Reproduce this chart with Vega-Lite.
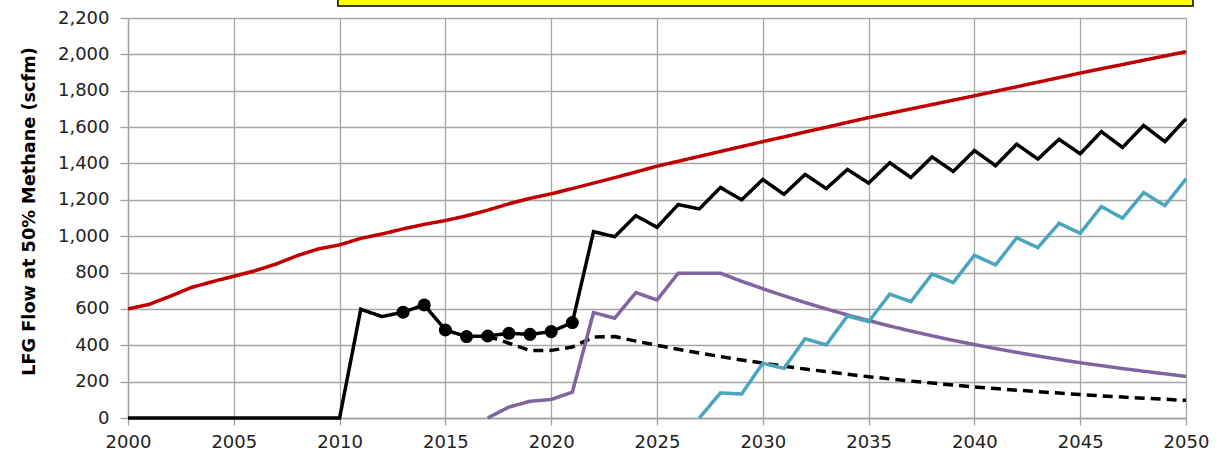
{
  "$schema": "https://vega.github.io/schema/vega-lite/v6.json",
  "width": 1058,
  "height": 400,
  "autosize": {"type": "none"},
  "padding": {"left": 128, "top": 18, "right": 44, "bottom": 44},
  "background": "white",
  "config": {
    "view": {"stroke": null},
    "axis": {
      "domainColor": "#A0A0A0",
      "domainWidth": 1.3,
      "tickColor": "#A0A0A0",
      "tickWidth": 1.3,
      "gridColor": "#A6A6A6",
      "gridWidth": 1.3,
      "labelFont": "DejaVu Sans",
      "labelFontSize": 18,
      "labelColor": "#222222",
      "titleFont": "DejaVu Sans",
      "titleColor": "#000000"
    }
  },
  "datasets": {
    "flows": [
      {"year": 2000, "gen": 600, "coll": 0, "exist": null, "p1": null, "p2": null, "actual": false},
      {"year": 2001, "gen": 625, "coll": 0, "exist": null, "p1": null, "p2": null, "actual": false},
      {"year": 2002, "gen": 670, "coll": 0, "exist": null, "p1": null, "p2": null, "actual": false},
      {"year": 2003, "gen": 718, "coll": 0, "exist": null, "p1": null, "p2": null, "actual": false},
      {"year": 2004, "gen": 750, "coll": 0, "exist": null, "p1": null, "p2": null, "actual": false},
      {"year": 2005, "gen": 780, "coll": 0, "exist": null, "p1": null, "p2": null, "actual": false},
      {"year": 2006, "gen": 810, "coll": 0, "exist": null, "p1": null, "p2": null, "actual": false},
      {"year": 2007, "gen": 847, "coll": 0, "exist": null, "p1": null, "p2": null, "actual": false},
      {"year": 2008, "gen": 893, "coll": 0, "exist": null, "p1": null, "p2": null, "actual": false},
      {"year": 2009, "gen": 930, "coll": 0, "exist": null, "p1": null, "p2": null, "actual": false},
      {"year": 2010, "gen": 952, "coll": 0, "exist": null, "p1": null, "p2": null, "actual": false},
      {"year": 2011, "gen": 988, "coll": 598, "exist": null, "p1": null, "p2": null, "actual": false},
      {"year": 2012, "gen": 1012, "coll": 558, "exist": null, "p1": null, "p2": null, "actual": false},
      {"year": 2013, "gen": 1040, "coll": 582, "exist": null, "p1": null, "p2": null, "actual": true},
      {"year": 2014, "gen": 1065, "coll": 622, "exist": null, "p1": null, "p2": null, "actual": true},
      {"year": 2015, "gen": 1086, "coll": 484, "exist": null, "p1": null, "p2": null, "actual": true},
      {"year": 2016, "gen": 1112, "coll": 448, "exist": null, "p1": null, "p2": null, "actual": true},
      {"year": 2017, "gen": 1143, "coll": 451, "exist": 451, "p1": 0, "p2": null, "actual": true},
      {"year": 2018, "gen": 1178, "coll": 466, "exist": 411, "p1": 60, "p2": null, "actual": true},
      {"year": 2019, "gen": 1208, "coll": 460, "exist": 371, "p1": 92, "p2": null, "actual": true},
      {"year": 2020, "gen": 1233, "coll": 475, "exist": 372, "p1": 102, "p2": null, "actual": true},
      {"year": 2021, "gen": 1262, "coll": 525, "exist": 390, "p1": 142, "p2": null, "actual": true},
      {"year": 2022, "gen": 1292, "coll": 1025, "exist": 445, "p1": 580, "p2": null, "actual": false},
      {"year": 2023, "gen": 1322, "coll": 997, "exist": 448, "p1": 549, "p2": null, "actual": false},
      {"year": 2024, "gen": 1353, "coll": 1113, "exist": 423, "p1": 690, "p2": null, "actual": false},
      {"year": 2025, "gen": 1385, "coll": 1049, "exist": 400, "p1": 649, "p2": null, "actual": false},
      {"year": 2026, "gen": 1412, "coll": 1174, "exist": 378, "p1": 796, "p2": null, "actual": false},
      {"year": 2027, "gen": 1439, "coll": 1150, "exist": 357, "p1": 796, "p2": 0, "actual": false},
      {"year": 2028, "gen": 1466, "coll": 1268, "exist": 338, "p1": 796, "p2": 138, "actual": false},
      {"year": 2029, "gen": 1493, "coll": 1200, "exist": 319, "p1": 752, "p2": 132, "actual": false},
      {"year": 2030, "gen": 1520, "coll": 1312, "exist": 302, "p1": 711, "p2": 301, "actual": false},
      {"year": 2031, "gen": 1546, "coll": 1230, "exist": 285, "p1": 672, "p2": 273, "actual": false},
      {"year": 2032, "gen": 1573, "coll": 1340, "exist": 269, "p1": 635, "p2": 436, "actual": false},
      {"year": 2033, "gen": 1599, "coll": 1262, "exist": 255, "p1": 600, "p2": 402, "actual": false},
      {"year": 2034, "gen": 1626, "coll": 1367, "exist": 241, "p1": 567, "p2": 561, "actual": false},
      {"year": 2035, "gen": 1652, "coll": 1292, "exist": 227, "p1": 536, "p2": 530, "actual": false},
      {"year": 2036, "gen": 1676, "coll": 1404, "exist": 215, "p1": 506, "p2": 681, "actual": false},
      {"year": 2037, "gen": 1700, "coll": 1323, "exist": 203, "p1": 478, "p2": 640, "actual": false},
      {"year": 2038, "gen": 1724, "coll": 1436, "exist": 192, "p1": 452, "p2": 792, "actual": false},
      {"year": 2039, "gen": 1748, "coll": 1356, "exist": 181, "p1": 427, "p2": 745, "actual": false},
      {"year": 2040, "gen": 1772, "coll": 1471, "exist": 171, "p1": 404, "p2": 895, "actual": false},
      {"year": 2041, "gen": 1797, "coll": 1388, "exist": 162, "p1": 382, "p2": 842, "actual": false},
      {"year": 2042, "gen": 1822, "coll": 1506, "exist": 153, "p1": 361, "p2": 991, "actual": false},
      {"year": 2043, "gen": 1847, "coll": 1424, "exist": 145, "p1": 341, "p2": 937, "actual": false},
      {"year": 2044, "gen": 1872, "coll": 1533, "exist": 137, "p1": 322, "p2": 1071, "actual": false},
      {"year": 2045, "gen": 1897, "coll": 1453, "exist": 129, "p1": 304, "p2": 1016, "actual": false},
      {"year": 2046, "gen": 1921, "coll": 1575, "exist": 122, "p1": 288, "p2": 1163, "actual": false},
      {"year": 2047, "gen": 1944, "coll": 1488, "exist": 115, "p1": 272, "p2": 1099, "actual": false},
      {"year": 2048, "gen": 1968, "coll": 1609, "exist": 109, "p1": 257, "p2": 1240, "actual": false},
      {"year": 2049, "gen": 1991, "coll": 1520, "exist": 103, "p1": 243, "p2": 1168, "actual": false},
      {"year": 2050, "gen": 2015, "coll": 1646, "exist": 97, "p1": 229, "p2": 1315, "actual": false}
    ]
  },
  "layer": [
    {
      "data": {"name": "flows"},
      "transform": [
        {"fold": ["gen", "exist", "p1", "p2", "coll"], "as": ["series", "value"]},
        {"filter": "datum.value != null"}
      ],
      "mark": {"type": "line", "strokeWidth": 3.5, "clip": false},
      "encoding": {
        "x": {
          "field": "year", "type": "quantitative",
          "scale": {"domain": [2000, 2050], "nice": false, "zero": false},
          "axis": {
            "values": [2000, 2005, 2010, 2015, 2020, 2025, 2030, 2035, 2040, 2045, 2050],
            "tickCount": 20,
            "format": "d", "title": null, "tickSize": 7, "labelPadding": 8,
            "labelFontSize": 18, "labelFont": "DejaVu Sans", "labelColor": "#222222",
            "labelFlush": false, "labelOverlap": false
          }
        },
        "y": {
          "field": "value", "type": "quantitative",
          "scale": {"domain": [0, 2200], "nice": false},
          "axis": {
            "values": [0, 200, 400, 600, 800, 1000, 1200, 1400, 1600, 1800, 2000, 2200],
            "tickCount": 20,
            "format": ",d", "tickSize": 8, "labelPadding": 11,
            "labelFontSize": 18, "labelFont": "DejaVu Sans", "labelColor": "#222222",
            "labelOverlap": false,
            "title": "LFG Flow at 50% Methane (scfm)",
            "titleFontSize": 17.7, "titleFontWeight": "bold",
            "titleAngle": 270, "titleAlign": "center", "titleBaseline": "middle",
            "titleX": -99, "titleY": 193
          }
        },
        "color": {
          "field": "series", "type": "nominal",
          "scale": {"domain": ["gen", "exist", "p1", "p2", "coll"], "range": ["#C00000", "#000000", "#8064A2", "#4AA5BE", "#000000"]},
          "legend": null
        },
        "strokeDash": {
          "field": "series", "type": "nominal",
          "scale": {"domain": ["gen", "exist", "p1", "p2", "coll"], "range": [[1, 0], [10, 6], [1, 0], [1, 0], [1, 0]]},
          "legend": null
        }
      }
    },
    {
      "data": {"name": "flows"},
      "transform": [{"filter": "datum.actual"}],
      "mark": {"type": "point", "filled": true, "size": 170, "color": "#000000", "opacity": 1},
      "encoding": {
        "x": {"field": "year", "type": "quantitative"},
        "y": {"field": "coll", "type": "quantitative"}
      }
    },
    {
      "data": {"values": [{"item": "legend box"}]},
      "mark": {"type": "rect", "fill": "#FFFF00", "stroke": "#000000", "strokeWidth": 1.5, "clip": false},
      "encoding": {
        "x": {"datum": 2009.92, "type": "quantitative"},
        "x2": {"datum": 2050.33},
        "y": {"datum": 2266, "type": "quantitative"},
        "y2": {"datum": 2340}
      }
    }
  ]
}
